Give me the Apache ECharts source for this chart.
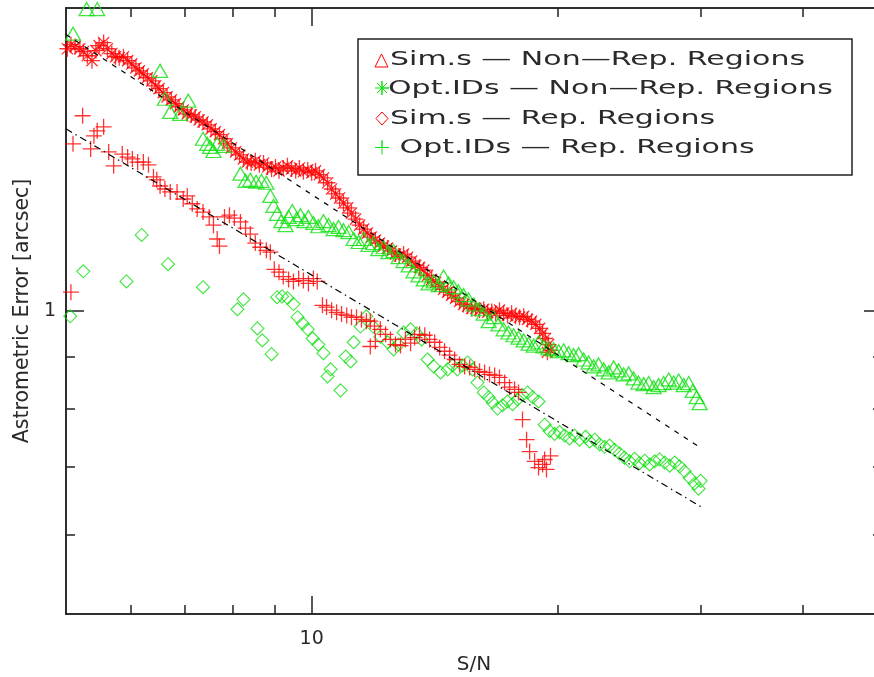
<!DOCTYPE html>
<html><head><meta charset="utf-8">
<script src="https://cdn.jsdelivr.net/npm/echarts@6.0.0/dist/echarts.min.js"></script>
<style>html,body{margin:0;padding:0;background:#fff}#chart{width:874px;height:677px}</style>
</head><body><div id="chart"></div>
<script>
// ---- axis ticks ----
const xMajorTicks = [10];
const xMinorTicks = [6, 7, 8, 9, 20, 30, 40];
const yMajorTicks = [1];
const yMinorTicks = [0.6, 0.7, 0.8, 0.9];

// ---- Opt.IDs – Non-Rep. Regions (asterisks) ----
const optNonRepSN = [5.02,5.07,5.13,5.20,5.25,5.31,5.38,5.44,5.49,5.56,
5.62,5.69,5.75,5.81,5.88,5.95,6.02,6.09,6.15,6.22,
6.29,6.37,6.44,6.50,6.58,6.65,6.73,6.81,6.88,6.96,
7.04,7.12,7.20,7.28,7.36,7.45,7.53,7.62,7.71,7.80,
7.88,7.97,8.07,8.16,8.25,8.34,8.43,8.53,8.63,8.73,
8.83,8.93,9.03,9.12,9.23,9.34,9.45,9.56,9.66,9.77,
9.89,10.00,10.11,10.22,10.34,10.46,10.58,10.70,10.82,10.94,
11.07,11.19,11.32,11.45,11.58,11.70,11.83,11.97,12.11,12.25,
12.39,12.53,12.67,12.81,12.96,13.11,13.26,13.41,13.56,13.72,
13.87,14.03,14.19,14.35,14.51,14.68,14.84,15.01,15.18,15.35,
15.53,15.71,15.89,16.06,16.25,16.43,16.62,16.81,16.99,17.19,
17.38,17.58,17.78,17.98,18.19,18.39,18.60,18.82,19.03,19.19,
19.35,19.51,19.62,19.45];
const optNonRepErr = [1.822,1.839,1.831,1.822,1.810,1.793,1.773,1.814,1.835,1.848,
1.822,1.802,1.789,1.785,1.789,1.773,1.760,1.744,1.732,1.720,
1.705,1.693,1.674,1.663,1.648,1.632,1.621,1.607,1.595,1.584,
1.570,1.566,1.559,1.548,1.541,1.531,1.517,1.507,1.497,1.483,
1.466,1.452,1.439,1.429,1.416,1.406,1.403,1.410,1.397,1.403,
1.390,1.384,1.390,1.378,1.387,1.394,1.384,1.378,1.387,1.375,
1.381,1.372,1.378,1.366,1.356,1.341,1.322,1.307,1.295,1.280,
1.266,1.251,1.234,1.217,1.206,1.195,1.184,1.176,1.168,1.160,
1.155,1.147,1.139,1.134,1.139,1.131,1.121,1.110,1.105,1.098,
1.085,1.075,1.068,1.058,1.051,1.044,1.037,1.030,1.022,1.015,
1.011,1.006,1.006,1.002,1.004,0.997,0.999,0.995,1.002,0.995,
0.990,0.995,0.988,0.986,0.988,0.981,0.977,0.970,0.961,0.950,
0.939,0.926,0.914,0.910];

// ---- Sim.s – Non-Rep. Regions (triangles) ----
const simNonRepSN = [5.10,5.30,5.46,6.52,6.61,6.71,6.90,7.06,7.36,7.45,
7.51,7.58,7.66,7.80,8.18,8.30,8.41,8.55,8.68,8.80,
8.90,8.98,9.07,9.18,9.29,9.37,9.47,9.58,9.69,9.80,
9.91,10.05,10.19,10.34,10.49,10.64,10.79,10.94,11.10,11.26,
11.42,11.58,11.74,11.90,12.07,12.25,12.42,12.60,12.78,12.96,
13.15,13.33,13.52,13.72,13.91,14.11,14.31,14.51,14.72,14.93,
15.13,15.35,15.57,15.80,16.02,16.25,16.48,16.71,16.94,17.19,
17.43,17.68,17.93,18.19,18.45,18.71,18.97,19.24,19.51,19.79,
20.08,20.36,20.65,20.94,21.24,21.54,21.85,22.16,22.47,22.80,
23.12,23.45,23.77,24.12,24.46,24.81,25.15,25.52,25.88,26.25,
26.62,27.00,27.39,27.78,28.17,28.57,28.98,29.31,29.64,29.89];
const simNonRepErr = [1.886,1.995,1.995,1.732,1.625,1.577,1.570,1.618,1.483,1.466,
1.456,1.442,1.466,1.459,1.369,1.347,1.350,1.344,1.347,1.341,
1.301,1.272,1.249,1.228,1.217,1.240,1.257,1.234,1.245,1.228,
1.240,1.223,1.214,1.228,1.217,1.206,1.212,1.203,1.198,1.179,
1.171,1.179,1.163,1.168,1.152,1.157,1.144,1.147,1.131,1.121,
1.110,1.095,1.085,1.075,1.065,1.070,1.061,1.082,1.065,1.056,
1.046,1.037,1.027,1.015,1.004,0.994,0.977,0.986,0.970,0.959,
0.952,0.946,0.941,0.935,0.928,0.924,0.931,0.922,0.918,0.916,
0.912,0.914,0.908,0.904,0.906,0.895,0.889,0.881,0.885,0.875,
0.869,0.879,0.873,0.865,0.867,0.857,0.849,0.846,0.848,0.840,
0.844,0.848,0.855,0.849,0.853,0.844,0.848,0.833,0.821,0.810];

// ---- Sim.s – Rep. Regions (diamonds) ----
const simRepSN = [5.06,5.25,5.93,6.19,6.67,7.36,8.11,8.25,8.58,8.70,
8.93,9.07,9.20,9.34,9.50,9.61,9.75,9.89,10.03,10.19,
10.34,10.55,10.46,10.85,11.01,11.16,11.26,11.48,11.67,11.90,
12.14,12.39,12.60,12.78,12.96,13.22,13.45,13.64,13.87,14.11,
14.39,14.68,14.88,15.09,15.31,15.53,15.75,15.97,16.25,16.48,
16.66,16.90,17.14,17.38,17.63,17.88,18.13,18.39,18.66,18.97,
19.30,19.57,19.85,20.13,20.42,20.70,21.00,21.30,21.66,21.91,
22.22,22.54,22.86,23.18,23.51,23.84,24.18,24.53,24.88,25.23,
25.59,25.96,26.33,26.69,27.08,27.46,27.86,28.25,28.65,29.06,
29.47,29.80,29.97];
const simRepErr = [0.988,1.095,1.070,1.190,1.113,1.056,1.004,1.027,0.961,0.935,
0.906,1.032,1.034,1.030,1.016,0.986,0.972,0.959,0.939,0.926,
0.908,0.875,0.861,0.834,0.901,0.891,0.931,0.965,0.988,0.965,
0.943,0.931,0.916,0.926,0.952,0.959,0.950,0.937,0.895,0.881,
0.869,0.875,0.883,0.875,0.883,0.889,0.875,0.849,0.830,0.821,
0.811,0.800,0.806,0.813,0.808,0.817,0.825,0.830,0.821,0.813,
0.771,0.760,0.755,0.758,0.752,0.747,0.752,0.745,0.750,0.742,
0.745,0.737,0.733,0.735,0.728,0.722,0.715,0.709,0.713,0.706,
0.710,0.704,0.709,0.712,0.707,0.702,0.707,0.701,0.693,0.683,
0.674,0.666,0.678];

// ---- Opt.IDs – Rep. Regions (plus signs) ----
const optRepSN = [5.07,5.10,5.24,5.36,5.41,5.46,5.56,5.64,5.72,5.86,
5.95,6.03,6.12,6.22,6.31,6.40,6.46,6.52,6.61,6.71,
6.84,6.96,7.04,7.14,7.24,7.36,7.49,7.58,7.66,7.71,
7.82,7.93,8.04,8.18,8.30,8.41,8.53,8.65,8.80,8.90,
9.00,9.12,9.23,9.37,9.50,9.64,9.77,9.91,10.05,10.16,
10.31,10.43,10.58,10.73,10.88,11.04,11.19,11.35,11.51,11.67,
11.80,11.94,11.80,11.97,12.14,12.32,12.49,12.67,12.85,13.03,
13.22,13.37,13.56,13.76,13.95,14.15,14.35,14.55,14.76,14.97,
15.18,15.40,15.62,15.84,16.06,16.29,16.52,16.76,16.99,17.24,
17.48,17.73,17.93,18.13,18.34,18.50,18.76,18.97,19.19,19.40,
19.62,19.30];
const optRepErr = [1.044,1.466,1.563,1.449,1.493,1.510,1.524,1.439,1.394,1.432,
1.422,1.416,1.406,1.406,1.397,1.359,1.350,1.331,1.322,1.313,
1.313,1.292,1.301,1.278,1.263,1.254,1.240,1.217,1.179,1.160,
1.240,1.245,1.237,1.226,1.209,1.192,1.168,1.157,1.149,1.144,
1.100,1.093,1.082,1.075,1.070,1.077,1.072,1.065,1.077,1.070,
1.013,1.009,1.002,0.997,0.993,0.990,0.986,0.986,0.981,0.977,
0.977,0.966,0.922,0.933,0.959,0.948,0.937,0.926,0.924,0.937,
0.929,0.941,0.948,0.946,0.937,0.931,0.920,0.912,0.904,0.895,
0.885,0.881,0.879,0.875,0.871,0.869,0.865,0.863,0.859,0.849,
0.840,0.836,0.830,0.780,0.745,0.725,0.709,0.699,0.704,0.696,
0.718,0.712];

// ---- fitted power-law lines (end points) ----
const fitSN = [5, 30];
const fitUpperErr = [1.882, 0.731];
const fitLowerErr = [1.517, 0.639];

const legendLabels = ['Sim.s — Non—Rep. Regions', 'Opt.IDs — Non—Rep. Regions', 'Sim.s — Rep. Regions', ' Opt.IDs — Rep. Regions'];

const RED = '#ff0000', GREEN = '#10e010', AX = '#222', TXT = '#2a2a2a';
const FONT = 'DejaVu Sans';
const zip = (a, b) => a.map((v, i) => [v, b[i]]);

const ASTER = 'path://M0 5L10 5M5 0L5 10M1.5 1.5L8.5 8.5M8.5 1.5L1.5 8.5';
const PLUS = 'path://M0 5L10 5M5 0L5 10';

function xAx(pos, ticks, len, label, extra) {
  return Object.assign({
    type: 'log', logBase: 10, min: 5, max: 50, position: pos,
    axisLine: {show: true, lineStyle: {color: AX, width: 1.5}},
    axisTick: {show: true, inside: true, length: len, customValues: ticks, lineStyle: {color: AX, width: 1.5}},
    axisLabel: label ? {show: true, customValues: ticks, fontSize: 19, fontFamily: FONT, color: TXT, margin: 16, formatter: v => String(+v)} : {show: false},
    splitLine: {show: false}, minorTick: {show: false}
  }, extra || {});
}
function yAx(pos, ticks, len, label, extra) {
  return Object.assign({
    type: 'log', logBase: 10, min: 0.5, max: 2, position: pos,
    axisLine: {show: true, lineStyle: {color: AX, width: 1.5}},
    axisTick: {show: true, inside: true, length: len, customValues: ticks, lineStyle: {color: AX, width: 1.5}},
    axisLabel: label ? {show: true, customValues: ticks, fontSize: 19, fontFamily: FONT, color: TXT, margin: 10, formatter: v => String(+v)} : {show: false},
    splitLine: {show: false}, minorTick: {show: false}
  }, extra || {});
}

const chart = echarts.init(document.getElementById('chart'), null, {renderer: 'canvas'});
const scat = (name, sn, err, symbol, size, color, bw) => ({
  type: 'scatter', name, data: zip(sn, err), symbol, symbolSize: size,
  xAxisIndex: 0, yAxisIndex: 0, silent: true,
  itemStyle: {color: 'transparent', borderColor: color, borderWidth: bw}
});

const legendIcons = [
  {type: 'polygon', shape: {points: [[375, 67], [388, 67], [381.5, 54]]}, style: {fill: 'none', stroke: RED, lineWidth: 1}},
  {type: 'polyline', shape: {points: [[375, 88], [389, 88], [382, 88], [382, 81], [382, 95], [382, 88], [377, 83], [387, 93], [382, 88], [387, 83], [377, 93]]}, style: {fill: 'none', stroke: GREEN, lineWidth: 1}},
  {type: 'polygon', shape: {points: [[382, 112], [388, 118.5], [382, 125], [376, 118.5]]}, style: {fill: 'none', stroke: RED, lineWidth: 1}},
  {type: 'polyline', shape: {points: [[375, 147.5], [389, 147.5], [382, 147.5], [382, 140.5], [382, 154.5]]}, style: {fill: 'none', stroke: GREEN, lineWidth: 1}}
];
const rowY = [60, 89, 118.5, 147.5];
const rowX = [390, 388, 390, 390];
const legendTexts = legendLabels.map((t, i) => ({
  type: 'text', x: rowX[i], y: rowY[i], scaleX: 1.5,
  style: {text: t, font: '20px "' + FONT + '"', fill: TXT, verticalAlign: 'middle', align: 'left'}
}));

chart.setOption({
  animation: false,
  backgroundColor: '#fff',
  textStyle: {fontFamily: FONT},
  grid: {left: 66, top: 8, width: 816, height: 606, containLabel: false, outerBoundsMode: 'none'},
  xAxis: [
    xAx('bottom', xMajorTicks, 18, true, {name: 'S/N', nameLocation: 'middle', nameGap: 41, nameTextStyle: {fontSize: 20, fontFamily: FONT, color: TXT}}),
    xAx('bottom', xMinorTicks, 9, false),
    xAx('top', xMajorTicks, 18, false),
    xAx('top', xMinorTicks, 9, false)
  ],
  yAxis: [
    yAx('left', yMajorTicks, 18, true, {name: 'Astrometric Error [arcsec]', nameLocation: 'middle', nameGap: 33, nameRotate: 90, nameTextStyle: {fontSize: 20.5, fontFamily: FONT, color: TXT}}),
    yAx('left', yMinorTicks, 9, false),
    yAx('right', yMajorTicks, 18, false),
    yAx('right', yMinorTicks, 9, false)
  ],
  series: [
    scat('Sim.s — Rep. Regions', simRepSN, simRepErr, 'diamond', 13, GREEN, 1.1),
    scat('Opt.IDs — Rep. Regions', optRepSN, optRepErr, PLUS, 16, RED, 1.3),
    scat('Opt.IDs — Non—Rep. Regions', optNonRepSN, optNonRepErr, ASTER, 16, RED, 1.3),
    scat('Sim.s — Non—Rep. Regions', simNonRepSN, simNonRepErr, 'triangle', [15, 13], GREEN, 1.3),
    {type: 'line', name: 'fit non-rep', data: zip(fitSN, fitUpperErr), symbol: 'none', silent: true, z: 5,
     lineStyle: {color: '#000', width: 1.2, type: [5, 6]}},
    {type: 'line', name: 'fit rep', data: zip(fitSN, fitLowerErr), symbol: 'none', silent: true, z: 5,
     lineStyle: {color: '#000', width: 1.2, type: [7, 4, 1.5, 4]}}
  ],
  graphic: [{
    type: 'group', z: 100,
    children: [{type: 'rect', shape: {x: 358, y: 39, width: 494, height: 136}, style: {fill: '#fff', stroke: AX, lineWidth: 1.5}}]
      .concat(legendIcons).concat(legendTexts)
  }]
});
</script></body></html>
